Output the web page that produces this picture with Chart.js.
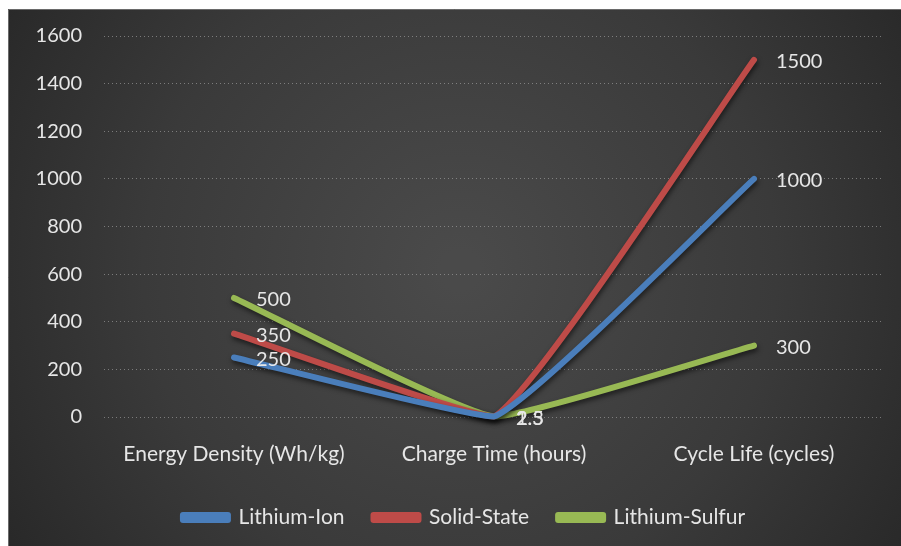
<!DOCTYPE html>
<html>
<head>
<meta charset="utf-8">
<script src="https://cdn.jsdelivr.net/npm/chart.js@4/dist/chart.umd.min.js"></script>
<style>
  html, body { margin: 0; padding: 0; background: #ffffff; }
  #wrap { width: 901px; height: 546px; position: relative; }
</style>
</head>
<body>
<div id="wrap"><canvas id="c" width="901" height="546"></canvas></div>
<script>
// Battery technology comparison
const categories = ['Energy Density (Wh/kg)', 'Charge Time (hours)', 'Cycle Life (cycles)'];
const lithiumIon = [250, 2, 1000];
const solidState = [350, 1.5, 1500];
const lithiumSulfur = [500, 2.3, 300];
const yTicks = [0, 200, 400, 600, 800, 1000, 1200, 1400, 1600];

const FONT = 'Lato, "Open Sans", sans-serif';

// dark panel with a soft radial glow
const panelBg = {
  id: 'panelBg',
  beforeDraw(chart) {
    const ctx = chart.ctx;
    const x0 = 8, y0 = 9, x1 = chart.width, y1 = chart.height;
    ctx.save();
    const g = ctx.createRadialGradient(460, 270, 20, 460, 270, 560);
    g.addColorStop(0, '#4a4a4a');
    g.addColorStop(0.55, '#3a3a3a');
    g.addColorStop(1, '#262626');
    ctx.fillStyle = g;
    ctx.fillRect(x0, y0, x1 - x0, y1 - y0);
    ctx.strokeStyle = '#6a6a6a';
    ctx.lineWidth = 1;
    ctx.beginPath();
    ctx.moveTo(x0 + 0.5, y1);
    ctx.lineTo(x0 + 0.5, y0 + 0.5);
    ctx.lineTo(x1, y0 + 0.5);
    ctx.stroke();
    ctx.restore();
  }
};

// nudge the legend row so it sits under the plot's centre
const legendShift = {
  id: 'legendShift',
  afterLayout(chart) {
    if (chart.legend) {
      chart.legend.left += 18;
      chart.legend.right += 18;
    }
  }
};

// drop shadow under each series line
const lineShadow = {
  id: 'lineShadow',
  beforeDatasetDraw(chart) {
    const ctx = chart.ctx;
    ctx.save();
    ctx.shadowColor = 'rgba(0,0,0,0.55)';
    ctx.shadowBlur = 5;
    ctx.shadowOffsetX = 1;
    ctx.shadowOffsetY = 3;
  },
  afterDatasetDraw(chart) {
    chart.ctx.restore();
  }
};

// value labels to the right of each point
const valueLabels = {
  id: 'valueLabels',
  afterDatasetsDraw(chart) {
    const ctx = chart.ctx;
    ctx.save();
    ctx.font = '20px ' + FONT;
    ctx.fillStyle = '#e6e6e6';
    ctx.textAlign = 'left';
    ctx.textBaseline = 'middle';
    chart.data.datasets.forEach((ds, di) => {
      const meta = chart.getDatasetMeta(di);
      meta.data.forEach((pt, i) => {
        ctx.fillText(String(ds.data[i]), pt.x + 22, pt.y + 2);
      });
    });
    ctx.restore();
  }
};

new Chart(document.getElementById('c'), {
  type: 'line',
  data: {
    labels: categories,
    datasets: [
      { label: 'Lithium-Ion', data: lithiumIon, borderColor: '#4a7ebb', backgroundColor: '#4a7ebb' },
      { label: 'Solid-State', data: solidState, borderColor: '#be4b48', backgroundColor: '#be4b48' },
      { label: 'Lithium-Sulfur', data: lithiumSulfur, borderColor: '#98b954', backgroundColor: '#98b954' }
    ].map(d => Object.assign(d, {
      borderWidth: 6,
      pointRadius: 0,
      pointHoverRadius: 0,
      tension: 0.12,
      borderCapStyle: 'round',
      borderJoinStyle: 'round',
      clip: false
    }))
  },
  options: {
    responsive: false,
    animation: false,
    layout: { padding: { left: 8, right: 17, top: 36, bottom: 8 } },
    plugins: {
      legend: {
        position: 'bottom',
        labels: {
          color: '#e6e6e6',
          font: { family: FONT, size: 21 },
          boxWidth: 45,
          boxHeight: 5,
          padding: 29
        }
      },
      tooltip: { enabled: false }
    },
    scales: {
      x: {
        offset: true,
        grid: { display: false, drawTicks: false },
        border: { display: false },
        ticks: { color: '#e6e6e6', font: { family: FONT, size: 21 }, padding: 25, maxRotation: 0 },
        afterFit(s) { s.height = 61; }
      },
      y: {
        min: 0,
        max: 1600,
        afterBuildTicks(s) { s.ticks = yTicks.map(v => ({ value: v })); },
        grid: {
          color: 'rgba(170,170,170,0.6)',
          lineWidth: 1,
          drawTicks: false
        },
        border: { display: false, dash: [1, 3] },
        ticks: {
          color: '#e6e6e6',
          font: { family: FONT, size: 20 },
          padding: 22,
          callback: v => String(v)
        },
        afterFit(s) { s.width = 96; }
      }
    }
  },
  plugins: [panelBg, legendShift, lineShadow, valueLabels]
});
</script>
</body>
</html>
